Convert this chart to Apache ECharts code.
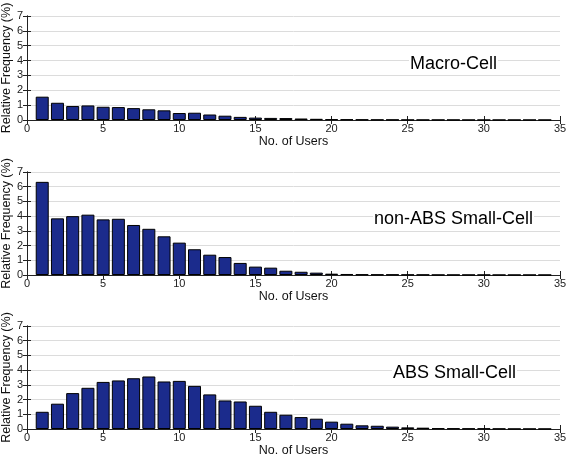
<!DOCTYPE html>
<html>
<head>
<meta charset="utf-8">
<script src="https://cdn.jsdelivr.net/npm/echarts@6/dist/echarts.min.js"></script>
<style>html,body{margin:0;padding:0;background:#fff;}#c{width:567px;height:458px;}</style>
</head>
<body>
<div id="c"></div>
<script>
var users = [1,2,3,4,5,6,7,8,9,10,11,12,13,14,15,16,17,18,19,20,21,22,23,24,25,26,27,28,29,30,31,32,33,34];
var macroCell = [1.57,1.16,0.94,0.98,0.89,0.87,0.80,0.72,0.65,0.47,0.49,0.37,0.29,0.21,0.16,0.14,0.13,0.10,0.08,0.05,0.04,0.03,0.02,0.02,0.01,0.01,0.01,0.01,0.005,0.005,0.005,0.005,0.005,0.005];
var nonAbsSmallCell = [6.33,3.85,4.00,4.10,3.78,3.82,3.40,3.14,2.63,2.20,1.75,1.38,1.22,0.82,0.57,0.50,0.29,0.22,0.16,0.09,0.07,0.04,0.03,0.03,0.02,0.02,0.01,0.01,0.01,0.01,0.005,0.005,0.005,0.005];
var absSmallCell = [1.17,1.72,2.44,2.80,3.20,3.30,3.45,3.57,3.23,3.27,2.93,2.35,1.94,1.87,1.58,1.17,0.97,0.81,0.70,0.50,0.36,0.25,0.22,0.16,0.11,0.09,0.05,0.04,0.03,0.03,0.02,0.01,0.01,0.01];
var panelLabels = ['Macro-Cell','non-ABS Small-Cell','ABS Small-Cell'];
var xLabelName = 'No. of Users';
var yLabelName = 'Relative Frequency (%)';

var seriesData = [macroCell, nonAbsSmallCell, absSmallCell];
var grids = [
  {left:27, right:7, top:16, height:104, containLabel:false, outerBoundsMode:'none'},
  {left:27, right:7, top:172, height:103, containLabel:false, outerBoundsMode:'none'},
  {left:27, right:7, top:326, height:103, containLabel:false, outerBoundsMode:'none'}
];
var labelPos = [[409,64],[373,219],[392,373]];
var font = 'Liberation Sans, Arial, Helvetica, sans-serif';

var xAxes = [], yAxes = [], series = [], graphics = [];
grids.forEach(function(g, i){
  xAxes.push({
    gridIndex:i, type:'value', min:0, max:35, interval:5, position:'bottom',
    name:xLabelName, nameLocation:'middle', nameGap:15, nameMoveOverlap:false,
    nameTextStyle:{fontFamily:font, fontSize:12.5, color:'#111'},
    axisLine:{show:true, lineStyle:{color:'#222', width:1}},
    axisTick:{show:true, inside:true, length:4, lineStyle:{color:'#222'}},
    axisLabel:{fontFamily:font, fontSize:11, color:'#222', margin:3},
    splitLine:{show:false}
  });
  xAxes.push({
    gridIndex:i, type:'value', min:0, max:35, interval:5, position:'top',
    axisLine:{show:true, lineStyle:{color:'#222', width:1}},
    axisTick:{show:true, inside:true, length:4, lineStyle:{color:'#222'}},
    axisLabel:{show:false}, splitLine:{show:false}
  });
  yAxes.push({
    gridIndex:i, type:'value', min:0, max:7, interval:1, position:'left',
    name:yLabelName, nameLocation:'middle', nameGap:14, nameRotate:90, nameMoveOverlap:false,
    nameTextStyle:{fontFamily:font, fontSize:12.5, color:'#111'},
    axisLine:{show:true, lineStyle:{color:'#222', width:1}},
    axisTick:{show:true, inside:true, length:4, lineStyle:{color:'#222'}},
    axisLabel:{fontFamily:font, fontSize:11, color:'#222', margin:4},
    splitLine:{show:true, lineStyle:{color:'#dcdcdc', width:1}}
  });
  yAxes.push({
    gridIndex:i, type:'value', min:0, max:7, interval:1, position:'right',
    axisLine:{show:true, lineStyle:{color:'#222', width:1}},
    axisTick:{show:true, inside:true, length:4, lineStyle:{color:'#222'}},
    axisLabel:{show:false}, splitLine:{show:false}
  });
  series.push({
    type:'bar', xAxisIndex:i*2, yAxisIndex:i*2, barWidth:13,
    data: users.map(function(u, k){ return [u, seriesData[i][k]]; }),
    itemStyle:{color:'#1b2b8c', borderColor:'#000', borderWidth:1},
    silent:true, animation:false
  });
  graphics.push({
    type:'text', x:labelPos[i][0], y:labelPos[i][1], z:100,
    style:{text:panelLabels[i], font:'18px ' + font, fill:'#000', verticalAlign:'middle', align:'left',
      backgroundColor:'#fff', padding:[0,1]}
  });
});

var chart = echarts.init(document.getElementById('c'));
chart.setOption({
  animation:false,
  backgroundColor:'#fff',
  grid:grids,
  xAxis:xAxes,
  yAxis:yAxes,
  series:series,
  graphic:graphics
});
</script>
</body>
</html>
